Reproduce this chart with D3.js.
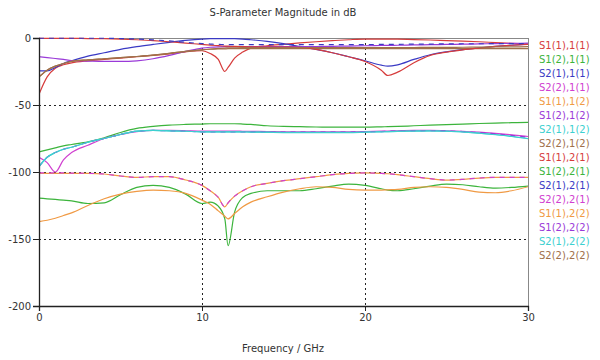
<!DOCTYPE html>
<html><head><meta charset="utf-8">
<script src="https://cdn.jsdelivr.net/npm/d3@7"></script>
<style>body{margin:0;background:#fff}svg{display:block}text{font-family:"DejaVu Sans",Verdana,sans-serif}</style>
</head><body>
<svg id="c" width="600" height="360"></svg>
<script>
const title = "S-Parameter Magnitude in dB";
const xLabel = "Frequency / GHz";
const xTicks = [0, 10, 20, 30];
const yTicks = [0, -50, -100, -150, -200];
const freq = [0,0.5,1,1.5,2,3,4,5,6,7,8,9,10,10.5,11,11.4,11.6,12,12.5,13,14,15,16,17,18,19,20,21,21.4,22,23,24,25,26,27,28,29,30];

const names = ["S1(1),1(1)","S1(2),1(1)","S2(1),1(1)","S2(2),1(1)","S1(1),1(2)","S1(2),1(2)","S2(1),1(2)","S2(2),1(2)",
               "S1(1),2(1)","S1(2),2(1)","S2(1),2(1)","S2(2),2(1)","S1(1),2(2)","S1(2),2(2)","S2(1),2(2)","S2(2),2(2)"];
const palette = ["#d63c3c","#3cb43c","#3a3ac4","#d040d0","#f09a44","#9a3ad8","#3cd0d0","#a0704a"];

const s11_11 = [-42,-29,-22.5,-20,-18.5,-17,-16,-15,-14,-13,-11.8,-10.3,-9.5,-11.5,-16,-25,-22,-15,-10.5,-7.5,-5.8,-4.7,-3.7,-2.8,-2,-1.3,-0.8,-0.8,-0.8,-0.9,-1.2,-1.5,-1.9,-2.3,-2.8,-3.4,-4,-4.5];
const s12_11 = [-85,-83.5,-82,-80.5,-79.5,-77.5,-74.5,-70.5,-67.5,-66,-65,-64.5,-64.2,-64,-64,-64,-64,-64,-64.2,-64.5,-65.5,-66,-66.2,-66.4,-66.5,-66.5,-66.5,-66.3,-66.2,-66,-65.5,-65,-64.6,-64.2,-63.8,-63.5,-63.2,-63];
const s21_11 = [-24.5,-24.5,-22,-19,-17,-13.5,-11,-8.5,-6.5,-4.8,-3.2,-1.8,-0.8,-0.5,-0.4,-0.4,-0.4,-0.5,-0.8,-1.3,-2.5,-4.2,-6.3,-8.5,-11,-14,-17,-20.3,-21,-20,-16,-12.5,-10.3,-8.7,-7.4,-6.3,-5.4,-4.6];
const s22_11 = [-89,-93,-100,-91,-85.5,-80,-75,-72,-69.8,-69,-69,-69.2,-69.5,-69.5,-69.5,-69.5,-69.5,-69.5,-69.6,-69.7,-69.8,-70,-70,-70,-70,-70,-69.8,-69.5,-69.4,-69.2,-69,-69,-69.2,-69.6,-70.3,-71.2,-72.3,-73.5];
const s11_12 = [-101,-101,-101,-101,-101,-101,-101.5,-103,-104,-103.5,-103.5,-106,-110,-114,-119,-126,-123,-118,-114,-111,-108.5,-106.5,-105,-103.5,-102,-101,-100.7,-101,-101.3,-102,-103.5,-105,-106,-105.5,-104.5,-104,-104,-104];
const s12_12 = [-14,-14.6,-15.3,-16,-16.8,-17.2,-17.5,-17.5,-17,-15.5,-13,-10,-7.5,-6.9,-6.6,-6.5,-6.5,-6.5,-6.5,-6.5,-6.5,-6.5,-6.5,-6.4,-6.2,-6,-5.8,-5.6,-5.5,-5.4,-5.2,-5,-4.8,-4.6,-4.4,-4.2,-4,-3.8];
const s21_12 = [-96,-89,-85.5,-83,-81.5,-77.8,-75,-72,-69.5,-69,-69.3,-69.6,-70,-70,-70,-70,-70,-70,-70.1,-70.2,-70.3,-70.5,-70.5,-70.5,-70.5,-70.5,-70.2,-69.9,-69.8,-69.6,-69.4,-69.3,-69.5,-70,-71,-72,-73.3,-75];
const s22_12 = [-29,-24,-21,-19,-17.5,-16.3,-15.5,-14.7,-13.8,-12.8,-11.5,-10,-8.8,-8.4,-8.2,-8.1,-8,-8,-8,-8,-8,-8,-8,-8,-8,-8,-8,-8,-8,-8,-8,-8,-8,-8,-8,-8,-8,-8];
const s11_21 = [-0.3,-0.3,-0.3,-0.3,-0.3,-0.4,-0.5,-0.8,-1.3,-2,-2.8,-3.8,-4.8,-5.3,-5.7,-6,-6.1,-6.3,-6.5,-6.6,-6.7,-6.8,-7,-8.5,-11,-14,-17.5,-24,-28,-25.5,-18.5,-13,-10.5,-8.8,-7.5,-6.3,-5.4,-4.8];
const s12_21 = [-119.5,-120,-120.5,-121,-121.5,-123.5,-123,-117,-111.5,-110,-111.5,-116.5,-123.5,-122.5,-125.5,-135,-155,-130,-119,-116,-114,-114,-114,-112.5,-110.5,-109,-110,-112.5,-113.5,-114,-112.5,-110.5,-109,-109.5,-111,-112,-111.5,-110.5];
const s21_21 = [-0.2,-0.2,-0.2,-0.2,-0.2,-0.2,-0.2,-0.4,-0.8,-1.4,-2.2,-3.2,-4.2,-4.5,-4.8,-4.9,-5,-5,-5,-5,-5,-5,-5,-5,-5,-5,-4.9,-4.8,-4.8,-4.7,-4.6,-4.5,-4.4,-4.3,-4.3,-4.2,-4.2,-4.2];
const s22_21 = [-100.6,-100.6,-100.6,-100.6,-100.8,-101,-101.5,-103,-104,-103.5,-103.5,-106,-110,-114,-119,-126,-123,-118,-114,-111,-108.5,-106.5,-105,-103.5,-102,-101,-100.7,-101,-101.3,-102,-103.5,-105,-106,-105.5,-104.5,-104,-104,-104];
const s11_22 = [-137,-136,-134.5,-132.5,-130.5,-125,-120,-116.5,-114.5,-113.5,-114,-116,-121,-124,-129,-133,-135,-131,-126,-122.5,-118.5,-115,-112.5,-111,-111.5,-113,-113.5,-113.5,-113.3,-113,-111.5,-111,-111.5,-113,-115,-115.5,-114,-111];
const s12_22 = [-96,-89,-85.5,-83,-81.5,-77.8,-75,-72,-69.5,-69,-69.3,-69.6,-70,-70,-70,-70,-70,-70,-70,-70,-70.2,-70.3,-70.3,-70.3,-70.3,-70.2,-70,-69.8,-69.6,-69.5,-69.3,-69.2,-69.4,-69.8,-70.6,-71.5,-72.7,-74];
const s21_22 = [-96,-89,-85.5,-83,-81.5,-77.8,-75,-72,-69.5,-69,-69.3,-69.6,-70,-70,-70,-70,-70,-70,-70.1,-70.2,-70.4,-70.6,-70.6,-70.6,-70.6,-70.6,-70.3,-70,-69.9,-69.7,-69.5,-69.4,-69.6,-70.1,-71.1,-72.2,-73.5,-75.2];
const s22_22 = [-29,-24,-21,-19,-17.5,-16.3,-15.5,-14.7,-13.8,-12.8,-11.5,-10,-8.8,-8.2,-7.8,-7.5,-7.4,-7.3,-7.2,-7.2,-7.2,-7.2,-7.2,-7.2,-7.2,-7.2,-7.2,-7.2,-7.2,-7.2,-7.1,-7,-7,-6.9,-6.8,-6.7,-6.6,-6.5];

const values = [s11_11,s12_11,s21_11,s22_11,s11_12,s12_12,s21_12,s22_12,s11_21,s12_21,s21_21,s22_21,s11_22,s12_22,s21_22,s22_22];
const dashed = [false,false,false,false,false,false,false,false,false,false,true,true,false,true,false,false];

const svg = d3.select("#c");
const m = {l:39, r:528, t:38, b:306};
const x = d3.scaleLinear().domain([0,30]).range([m.l, m.r]);
const y = d3.scaleLinear().domain([-200,0]).range([m.b, m.t]);

// grid
const g = svg.append("g");
g.selectAll("line.gy").data(yTicks.filter(v=>v!==0 && v!==-200)).join("line")
  .attr("x1", m.l).attr("x2", m.r).attr("y1", d=>Math.round(y(d))+0.5).attr("y2", d=>Math.round(y(d))+0.5)
  .attr("stroke","#222").attr("stroke-dasharray","2,3");
g.selectAll("line.gx").data(xTicks.filter(v=>v!==0 && v!==30)).join("line")
  .attr("y1", m.t).attr("y2", m.b).attr("x1", d=>Math.round(x(d))+0.5).attr("x2", d=>Math.round(x(d))+0.5)
  .attr("stroke","#222").attr("stroke-dasharray","2,3");

// frame top/right
svg.append("line").attr("x1",m.l).attr("x2",m.r+0.5).attr("y1",m.t+0.5).attr("y2",m.t+0.5).attr("stroke","#888");
svg.append("line").attr("x1",m.r+0.5).attr("x2",m.r+0.5).attr("y1",m.t).attr("y2",m.b).attr("stroke","#888");

// lines
const line = d3.line().x((d,i)=>x(freq[i])).y(d=>y(d)).curve(d3.curveMonotoneX);
svg.append("clipPath").attr("id","pc").append("rect").attr("x",m.l).attr("y",m.t-1).attr("width",m.r-m.l).attr("height",m.b-m.t+1);
const lg = svg.append("g").attr("clip-path","url(#pc)");
values.forEach((v,i)=>{
  lg.append("path").attr("d", line(v)).attr("fill","none")
    .attr("stroke", palette[i%8]).attr("stroke-width",1.2)
    .attr("stroke-dasharray", dashed[i] ? "5,5" : null);
});

// axes
const fmt = d => String(d);
const xa = svg.append("g").attr("transform",`translate(0,${m.b})`)
  .call(d3.axisBottom(x).tickValues(xTicks).tickSize(5).tickFormat(fmt));
const ya = svg.append("g").attr("transform",`translate(${m.l},0)`)
  .call(d3.axisLeft(y).tickValues(yTicks).tickSize(6).tickFormat(fmt));
[xa,ya].forEach(a=>{
  a.select(".domain").attr("stroke","#222").attr("stroke-width",1.3);
  a.selectAll(".tick line").attr("stroke","#222");
  a.selectAll("text").attr("font-family","DejaVu Sans, Verdana, sans-serif").attr("font-size",10).attr("fill","#333");
});
ya.selectAll("text").attr("x",-8);
xa.selectAll("text").attr("y",8);

// titles
svg.append("text").attr("x",283).attr("y",16).attr("text-anchor","middle").attr("font-size",10).attr("fill","#333").text(title);
svg.append("text").attr("x",283).attr("y",352).attr("text-anchor","middle").attr("font-size",10).attr("fill","#333").text(xLabel);

// legend
const leg = svg.append("g");
names.forEach((n,i)=>{
  leg.append("text").attr("x",539).attr("y",45+i*14).attr("dy","0.35em")
    .attr("font-size",10).attr("fill",palette[i%8]).text(n);
});
</script>
</body></html>
